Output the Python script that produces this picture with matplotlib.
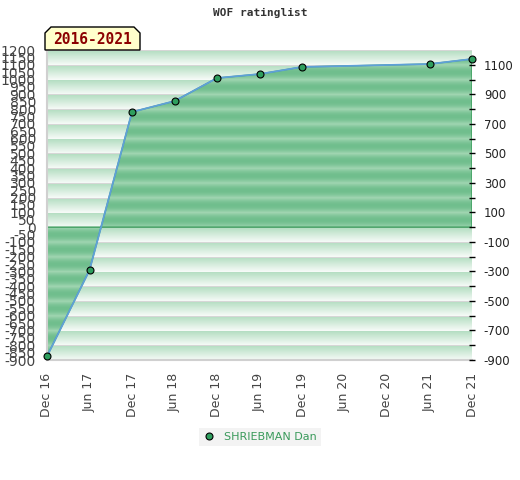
import numpy as np
import matplotlib.pyplot as plt
from matplotlib.patches import Polygon
from matplotlib.lines import Line2D

# x axis in months since Dec 2016
tick_months = [0, 6, 12, 18, 24, 30, 36, 42, 48, 54, 60]
tick_labels = ['Dec 16', 'Jun 17', 'Dec 17', 'Jun 18', 'Dec 18', 'Jun 19',
               'Dec 19', 'Jun 20', 'Dec 20', 'Jun 21', 'Dec 21']

point_months = [0, 6, 12, 18, 24, 30, 36, 54, 60]
rating = [-875, -291, 780, 854, 1010, 1037, 1085, 1105, 1139]

ymin, ymax = -900, 1200

fig = plt.figure(figsize=(5.2, 4.8), dpi=100)
ax = fig.add_axes([47 / 520, 1 - 360 / 480, 425 / 520, 310 / 480])

# striped background: one band per 100 points
yy = np.arange(ymax, ymin, -1) + 0.5
phase = ((ymax - yy) % 100) / 100.0
top = np.array([178, 221, 192]) / 255
bot = np.array([247, 251, 248]) / 255
bg = top[None, :] * (1 - phase[:, None]) + bot[None, :] * phase[:, None]
bg[phase < 0.05] = np.array([214, 214, 214]) / 255
ax.imshow(bg[:, None, :], extent=[0, 60, ymin, ymax], aspect='auto',
          interpolation='nearest', zorder=0)

# striped fill between the rating line and zero
ftop = np.array([160, 213, 177]) / 255
fbot = np.array([112, 190, 141]) / 255
w = np.abs(np.sin(np.pi * phase))
fill_img = ftop[None, :] * (1 - w[:, None]) + fbot[None, :] * w[:, None]
im = ax.imshow(fill_img[:, None, :], extent=[0, 60, ymin, ymax], aspect='auto',
               interpolation='nearest', zorder=1)
verts = [(point_months[0], 0)] + list(zip(point_months, rating)) + [(point_months[-1], 0)]
clip = Polygon(verts, closed=True, transform=ax.transData, facecolor='none',
               edgecolor='#3c9d5d', lw=1.0, zorder=2)
ax.add_patch(clip)
im.set_clip_path(clip)

ax.plot(point_months, rating, color='#5fa0d8', lw=1.3, zorder=3)
ax.plot(point_months, rating, 'o', ms=5, mfc='#2e9e5e', mec='black', mew=0.8,
        zorder=4, clip_on=False)

ax.set_xlim(0, 60)
ax.set_ylim(ymin, ymax)

ax.set_xticks(tick_months)
ax.set_xticklabels(tick_labels, rotation=90, fontsize=9, color='#444444')
ax.tick_params(axis='x', length=0, pad=9)

ax.set_yticks(np.arange(ymin, ymax + 1, 50))
ax.set_yticklabels([str(v) for v in np.arange(ymin, ymax + 1, 50)],
                   fontsize=10, color='#444444')
ax.tick_params(axis='y', length=0, pad=8)

for s in ['top', 'right']:
    ax.spines[s].set_visible(False)
for s in ['left', 'bottom']:
    ax.spines[s].set_color('#d0d0d0')
    ax.spines[s].set_linewidth(1.5)

ax2 = ax.twinx()
ax2.set_ylim(ymin, ymax)
right_ticks = np.arange(ymin, ymax, 100)
ax2.set_yticks(right_ticks)
ax2.set_yticklabels([str(v) if (v // 100) % 2 else '' for v in right_ticks],
                    fontsize=8.5, color='#222222')
ax2.tick_params(axis='y', direction='inout', length=5, width=1, pad=6)
for s in ax2.spines.values():
    s.set_visible(False)

fig.text(260 / 520, 1 - 13 / 480, 'WOF ratinglist', ha='center', va='center',
         family='DejaVu Sans Mono', fontweight='bold', fontsize=8, color='#333333')

# range label box with clipped corners
bx = [45, 45, 51, 134, 140, 140]
by = [50, 33, 27, 27, 33, 50]
box = Polygon([(x / 520, 1 - y / 480) for x, y in zip(bx, by)], closed=True,
              transform=fig.transFigure, facecolor='#ffffcc', edgecolor='black',
              lw=1.0, zorder=10)
fig.patches.append(box)
fig.text(92 / 520, 1 - 40 / 480, '2016-2021', ha='center', va='center',
         family='DejaVu Sans Mono', fontweight='bold', fontsize=10.5,
         color='#8b0000', zorder=11)

handle = Line2D([], [], ls='none', marker='o', ms=5, mfc='#2e9e5e', mec='black', mew=0.8)
leg = fig.legend([handle], ['SHRIEBMAN Dan'], loc='center',
                 bbox_to_anchor=(260 / 520, 1 - 437 / 480), fontsize=8,
                 frameon=True, fancybox=False, handlelength=1.0, handletextpad=0.8,
                 borderpad=0.4)
leg.get_frame().set_facecolor('#f0f0f0')
leg.get_frame().set_edgecolor('none')
for t in leg.get_texts():
    t.set_color('#3a9a5b')

fig.savefig('out.png', dpi=100)
